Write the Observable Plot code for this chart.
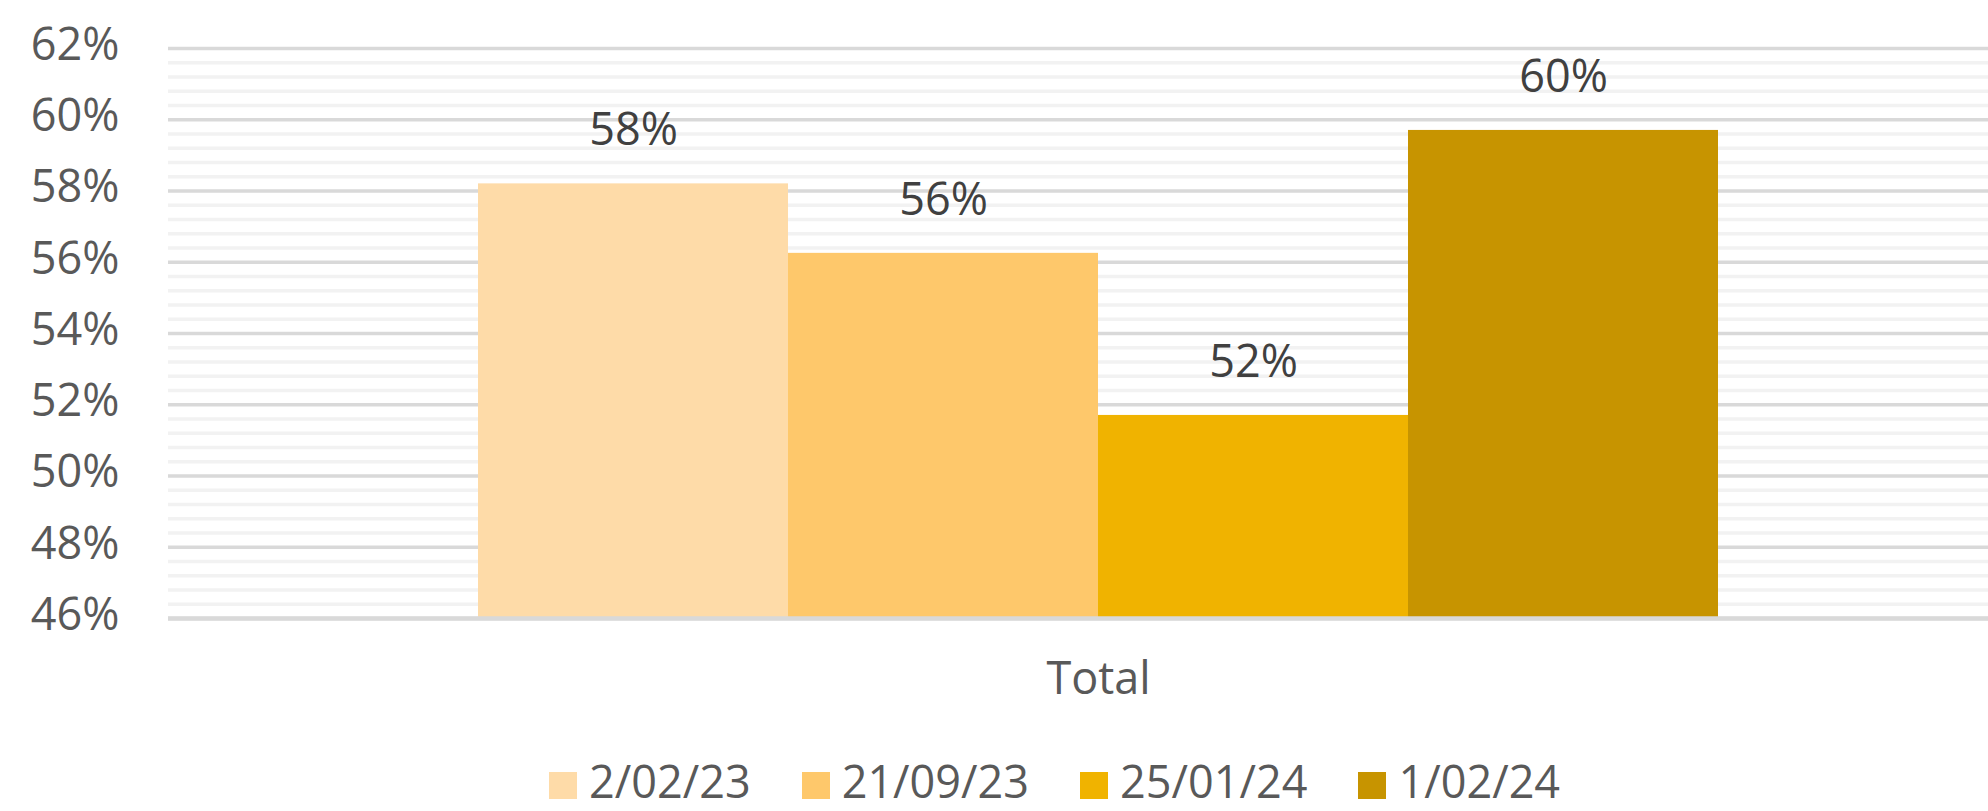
<!DOCTYPE html>
<html>
<head>
<meta charset="utf-8">
<script src="https://cdn.jsdelivr.net/npm/d3@7"></script>
<script src="https://cdn.jsdelivr.net/npm/@observablehq/plot@0.6"></script>
<style>
  html, body { margin: 0; padding: 0; background: #fff; overflow: hidden; }
  #chart svg { display: block; overflow: hidden; }
  #legend {
    display: flex; align-items: center; margin-top: 27px; padding-left: 549px;
    font-family: "Open Sans", sans-serif; font-size: 45px; color: #595959; line-height: 36px;
  }
  .item { display: flex; align-items: center; margin-right: 51px; }
  .sw { width: 28px; height: 27px; margin-right: 12px; }
  .lbl { position: relative; top: -4px; white-space: nowrap; }
</style>
</head>
<body>
<div id="chart"></div>
<div id="legend"></div>
<script>
const categories = ["Total"];
const dates = ["2/02/23", "21/09/23", "25/01/24", "1/02/24"];
const values = [0.582, 0.5625, 0.517, 0.597];
const barColors = ["#FEDBA8", "#FEC86B", "#F0B300", "#C79400"];
const yTicks = [0.46, 0.48, 0.50, 0.52, 0.54, 0.56, 0.58, 0.60, 0.62];

const data = dates.map((d, i) => ({category: categories[0], date: d, value: values[i]}));
const minorTicks = [];
for (let i = 0; i < yTicks.length - 1; i++) {
  const step = (yTicks[i + 1] - yTicks[i]) / 5;
  for (let k = 1; k < 5; k++) minorTicks.push(yTicks[i] + k * step);
}
const pct = d3.format(".0%");

const plot = Plot.plot({
  width: 1988,
  height: 740,
  marginLeft: 168,
  marginRight: -40,
  marginTop: 48,
  marginBottom: 122,
  style: {fontFamily: "'Open Sans', sans-serif", background: "white"},
  y: {domain: [yTicks[0], yTicks[yTicks.length - 1]]},
  x: {domain: dates, paddingInner: 0, paddingOuter: 1, axis: null},
  fx: {domain: categories, padding: 0},
  color: {domain: dates, range: barColors},
  marks: [
    Plot.ruleY(minorTicks, {stroke: "#F2F2F2", strokeWidth: 3.5}),
    Plot.ruleY(yTicks, {stroke: "#D9D9D9", strokeWidth: 3.5}),
    Plot.barY(data, {fx: "category", x: "date", y1: yTicks[0], y2: "value", fill: "date"}),
    Plot.ruleY([yTicks[0]], {stroke: "#D9D9D9", strokeWidth: 4.5}),
    Plot.text(data, {fx: "category", x: "date", y: "value", text: d => pct(d.value),
      dy: -53, fontSize: 45, fill: "#404040"}),
    Plot.axisY(yTicks, {tickSize: 0, tickPadding: 49, tickFormat: pct, fontSize: 45,
      color: "#595959", label: null, dy: -3}),
    Plot.axisFx({anchor: "bottom", tickSize: 0, tickPadding: 44, fontSize: 45,
      color: "#595959", label: null})
  ]
});
document.getElementById("chart").appendChild(plot);

const legend = document.getElementById("legend");
dates.forEach((d, i) => {
  const item = document.createElement("div");
  item.className = "item";
  const sw = document.createElement("div");
  sw.className = "sw";
  sw.style.background = barColors[i];
  const lbl = document.createElement("span");
  lbl.className = "lbl";
  lbl.textContent = d;
  item.appendChild(sw);
  item.appendChild(lbl);
  legend.appendChild(item);
});
</script>
</body>
</html>
